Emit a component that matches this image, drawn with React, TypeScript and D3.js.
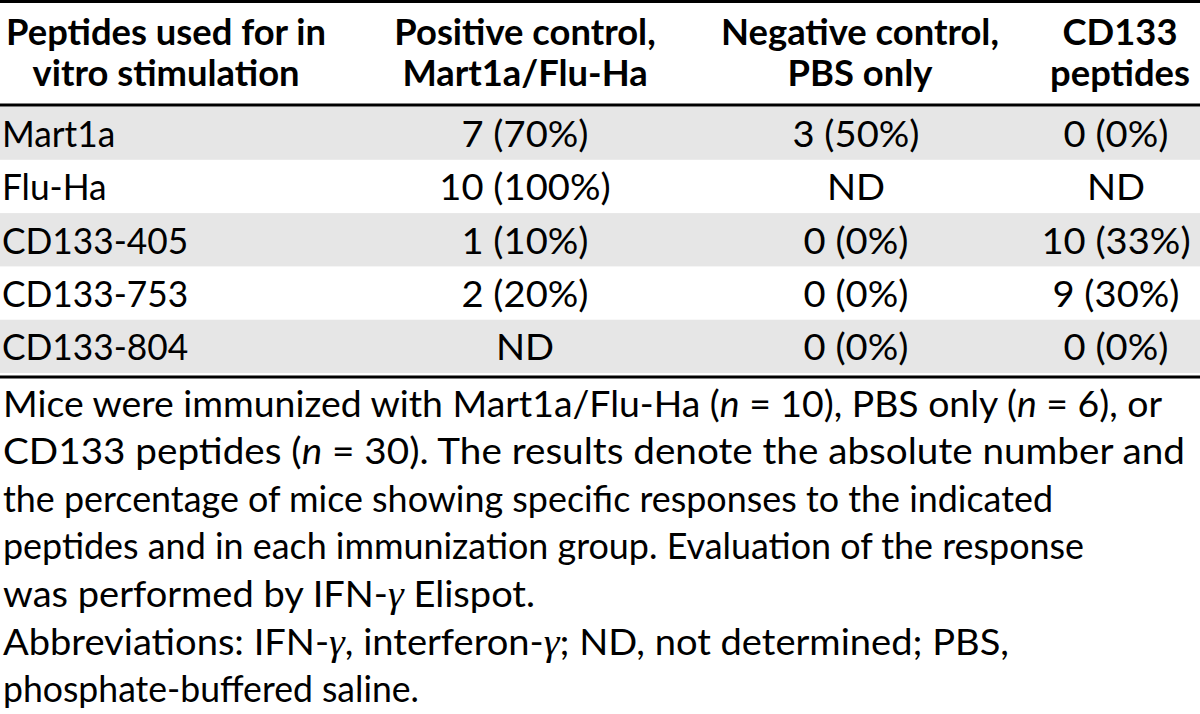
import React from "react";
import * as d3 from "d3";

const peptides = ["Mart1a", "Flu-Ha", "CD133-405", "CD133-753", "CD133-804"];
const positiveControl = ["7 (70%)", "10 (100%)", "1 (10%)", "2 (20%)", "ND"];
const negativeControl = ["3 (50%)", "ND", "0 (0%)", "0 (0%)", "0 (0%)"];
const cd133Peptides = ["0 (0%)", "ND", "10 (33%)", "9 (30%)", "0 (0%)"];
const headerLines = [
  ["Peptides used for in", "vitro stimulation"],
  ["Positive control,", "Mart1a/Flu-Ha"],
  ["Negative control,", "PBS only"],
  ["CD133", "peptides"],
];

type Seg = { t: string; s?: "i" | "g" };
const footnote: Seg[][] = [
  [{ t: "Mice were immunized with Mart1a/Flu-Ha (" }, { t: "n", s: "i" }, { t: " = 10), PBS only (" }, { t: "n", s: "i" }, { t: " = 6), or" }],
  [{ t: "CD133 peptides (" }, { t: "n", s: "i" }, { t: " = 30). The results denote the absolute number and" }],
  [{ t: "the percentage of mice showing specific responses to the indicated" }],
  [{ t: "peptides and in each immunization group. Evaluation of the response" }],
  [{ t: "was performed by IFN-" }, { t: "γ", s: "g" }, { t: " Elispot." }],
  [{ t: "Abbreviations: IFN-" }, { t: "γ", s: "g" }, { t: ", interferon-" }, { t: "γ", s: "g" }, { t: "; ND, not determined; PBS," }],
  [{ t: "phosphate-buffered saline." }],
];

const W = 1200;
const H = 714;
const FONT = "Lato, 'Noto Sans', sans-serif";
const FS = 36;
const SX_HEAD = 1.01;
const SX_LABEL = 0.98;
const SX_DATA = 1.06;
// rendered line lengths of the caption lines (layout, to mimic the original font's set width)
const FOOT_LEN = [1159, 1182, 1050, 1081, 532, 1006, 416];

const tr = (x: number, y: number, sx: number) => `translate(${x},${y}) scale(${sx},1)`;

export default function App() {
  const rowY = d3.scaleBand<string>().domain(peptides).range([106.5, 373]).paddingInner(0);
  const bw = rowY.bandwidth();
  const colX = [166, 525, 860, 1120];
  const dataX = [0, 525, 856, 1116];
  const cols = [positiveControl, negativeControl, cd133Peptides];
  const footY = d3.scaleLinear().domain([0, 1]).range([416.5, 464.1]);
  const headY = d3.scaleLinear().domain([0, 1]).range([45, 86]);

  return (
    <svg width={W} height={H} style={{ display: "block", position: "absolute", left: 0, top: 0, background: "#fff" }}
      fontFamily={FONT} fontSize={FS} fill="#000">
      <rect x={0} y={0} width={W} height={H} fill="#fff" />
      {peptides.map((p, i) =>
        i % 2 === 0 ? <rect key={"bg" + p} x={0} y={rowY(p)} width={W} height={bw} fill="#e6e6e6" /> : null
      )}
      <line x1={0} x2={W} y1={1.5} y2={1.5} stroke="#000" strokeWidth={3} />
      <line x1={0} x2={W} y1={105} y2={105} stroke="#000" strokeWidth={3} />
      <line x1={0} x2={W} y1={377} y2={377} stroke="#000" strokeWidth={3} />
      {headerLines.map((lines, c) =>
        lines.map((l, k) => (
          <text key={"h" + c + "-" + k} transform={tr(colX[c], headY(k), SX_HEAD)} textAnchor="middle" fontWeight="bold">{l}</text>
        ))
      )}
      {peptides.map((p) => (
        <text key={"r" + p} transform={tr(2, (rowY(p) as number) + 40.5, SX_LABEL)}>{p}</text>
      ))}
      {cols.map((vals, c) =>
        vals.map((v, i) => (
          <text key={"d" + c + "-" + i} transform={tr(dataX[c + 1], (rowY(peptides[i]) as number) + 40.5, SX_DATA)} textAnchor="middle">{v}</text>
        ))
      )}
      {footnote.map((line, i) => (
        <text key={"f" + i} x={3} y={footY(i)} textLength={FOOT_LEN[i]} lengthAdjust="spacingAndGlyphs">
          {line.map((s, k) => (
            <tspan key={k} fontStyle={s.s === "i" ? "italic" : s.s === "g" ? "italic" : undefined}
              fontFamily={s.s === "g" ? "'Liberation Serif', 'DejaVu Serif', serif" : undefined}
              fontSize={s.s === "g" ? FS * 1.05 : undefined}>{s.t}</tspan>
          ))}
        </text>
      ))}
    </svg>
  );
}
